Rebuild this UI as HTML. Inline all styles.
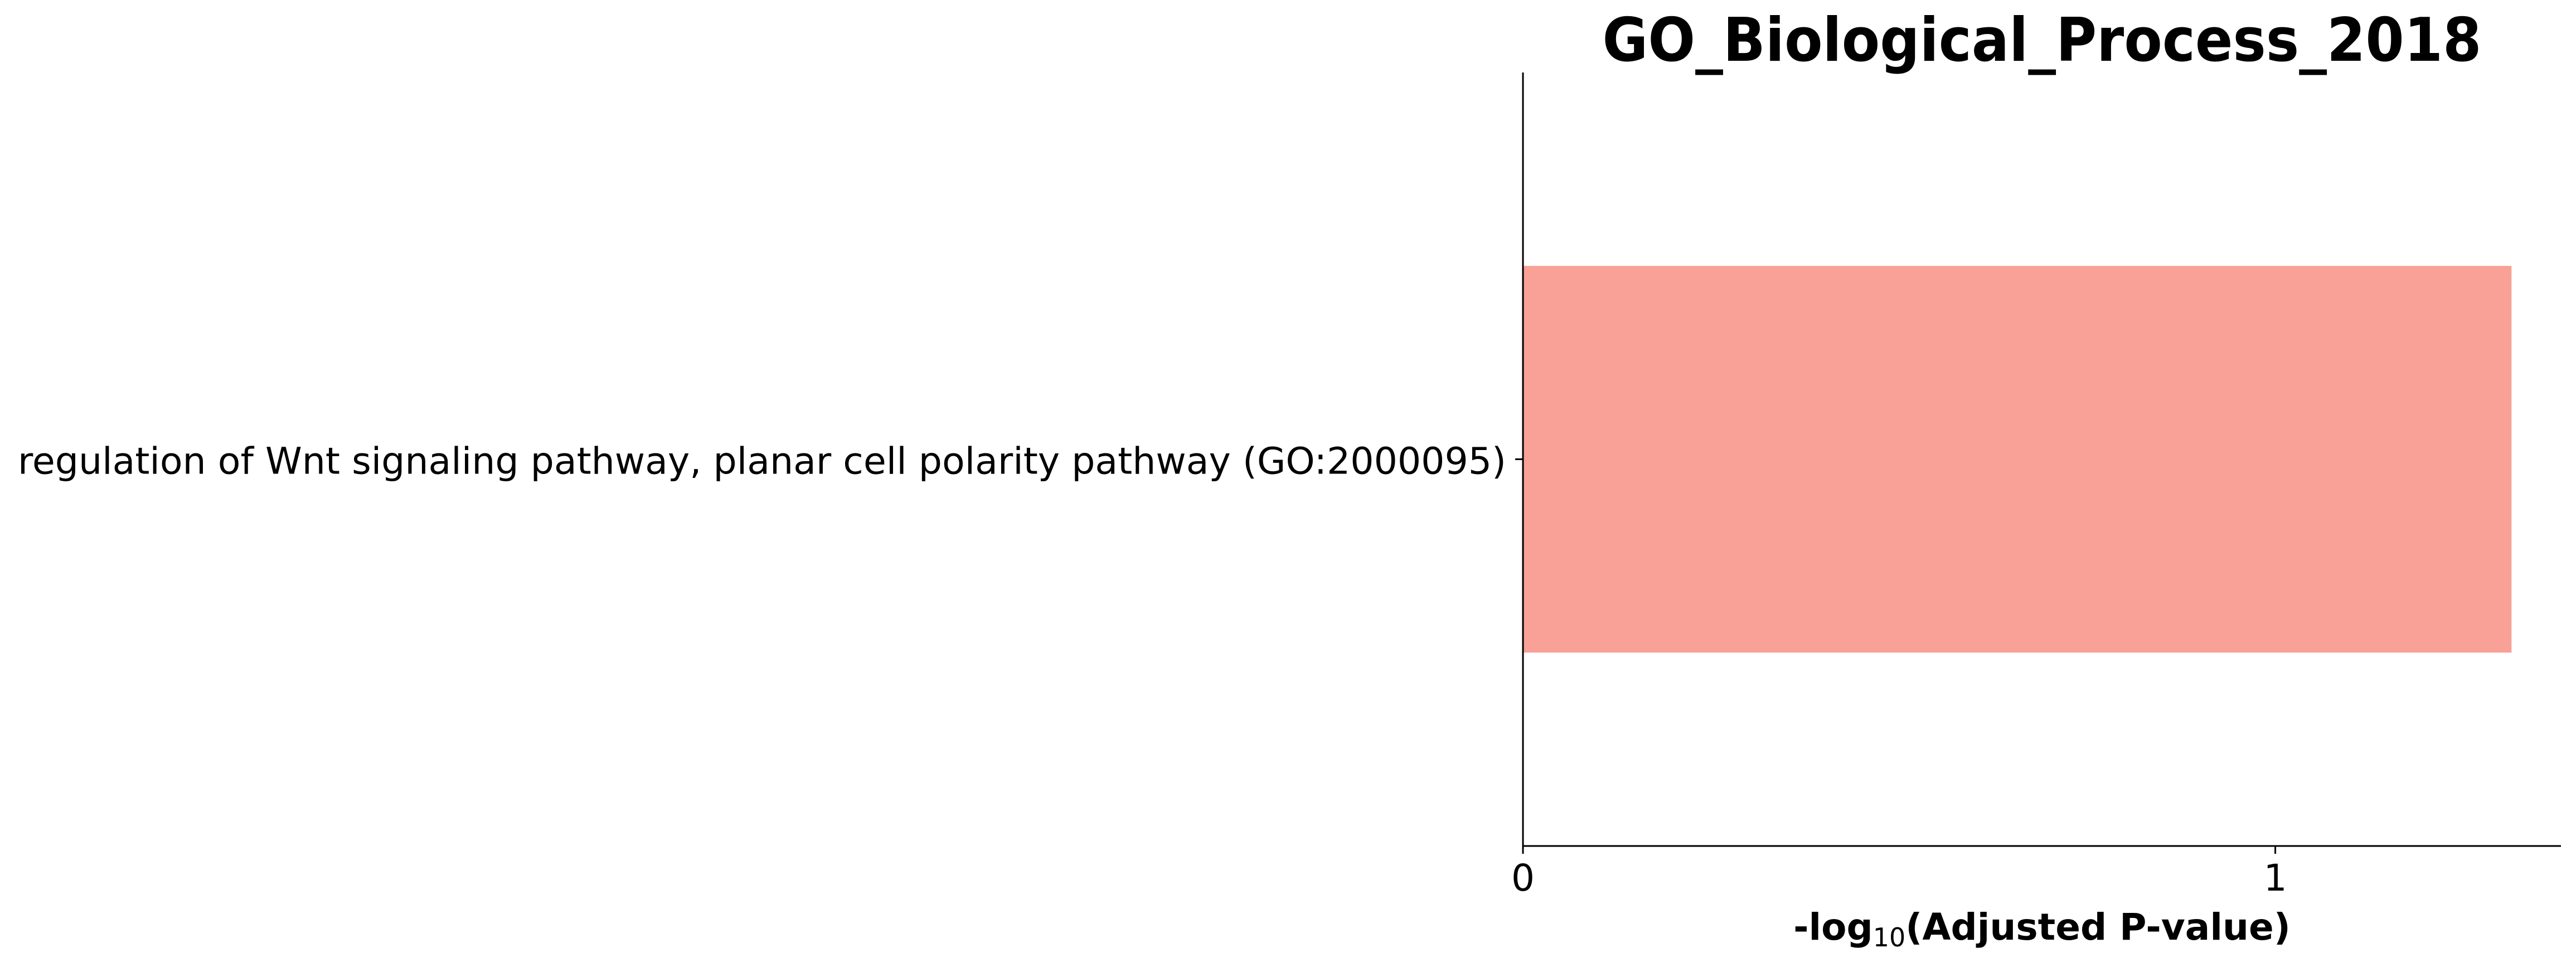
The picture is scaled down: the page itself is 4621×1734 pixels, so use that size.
<!DOCTYPE html>
<html><head><meta charset="utf-8"><style>
html,body{margin:0;padding:0;background:#fff;}
svg text{font-family:"DejaVu Sans","Liberation Sans",sans-serif;}
</style></head><body>
<svg id="chart" width="4621" height="1729" viewBox="0 0 4621 1729" xmlns="http://www.w3.org/2000/svg">
<rect width="4621" height="1729" fill="#fff"/>
<text x="3663" y="109" font-size="108" font-weight="bold" text-anchor="middle" textLength="1577" lengthAdjust="spacingAndGlyphs">GO_Biological_Process_2018</text>
<g id="plot"></g>
<text x="3663" y="1685" font-size="66" font-weight="bold" text-anchor="middle">-log<tspan font-size="46" font-weight="normal" dy="12">10</tspan><tspan dy="-12">(Adjusted P-value)</tspan></text>
</svg>
<script>
const categories = ["regulation of Wnt signaling pathway, planar cell polarity pathway (GO:2000095)"];
const values = [1.314];
const xTicks = [0, 1];
const xTickLabels = ["0", "1"];

const NS = "http://www.w3.org/2000/svg";
const plotG = document.getElementById('plot');
const axLeft = 2732, axRight = 4594, axTop = 130, axBottom = 1517;
const xMax = Math.max(...values) * 1.05;
function xScale(v){ return axLeft + v / xMax * (axRight - axLeft); }
const nCat = categories.length;
const bandH = (axBottom - axTop) / nCat;
function yBand(i){ return axTop + bandH * (nCat - 1 - i); }

function mk(tag, attrs){ const e = document.createElementNS(NS, tag); for (const k in attrs) e.setAttribute(k, attrs[k]); return e; }

categories.forEach((c, i) => {
  const y0 = yBand(i) + bandH * 0.25;
  const bar = mk('rect', {x: xScale(0), y: y0, width: xScale(values[i]) - xScale(0), height: bandH * 0.5, fill: '#f9a197'});
  
  
  plotG.appendChild(bar);
  const cy = yBand(i) + bandH / 2;
  const tick = mk('line', {x1: axLeft - 14, x2: axLeft, y1: cy, y2: cy, stroke: '#000', 'stroke-width': 3});
  
  
  plotG.appendChild(tick);
  const lab = mk('text', {x: axLeft - 30, y: cy + 26, 'font-size': 66, 'text-anchor': 'end', textLength: 2670, lengthAdjust: 'spacingAndGlyphs'});
  lab.textContent = c;
  
  
  plotG.appendChild(lab);
});

xTicks.forEach((t, i) => {
  const x = xScale(t);
  const tk = mk('line', {x1: x, x2: x, y1: axBottom, y2: axBottom + 14, stroke: '#000', 'stroke-width': 3});
  
  
  plotG.appendChild(tk);
  const lb = mk('text', {x: x, y: 1597, 'font-size': 66, 'text-anchor': 'middle'});
  lb.textContent = xTickLabels[i];
  
  
  plotG.appendChild(lb);
});

const ys = mk('line', {x1: axLeft, x2: axLeft, y1: axTop, y2: axBottom + 1.5, stroke: '#000', 'stroke-width': 3});


plotG.appendChild(ys);
const xs = mk('line', {x1: axLeft - 1.5, x2: axRight, y1: axBottom, y2: axBottom, stroke: '#000', 'stroke-width': 3});


plotG.appendChild(xs);
</script>
</body></html>
